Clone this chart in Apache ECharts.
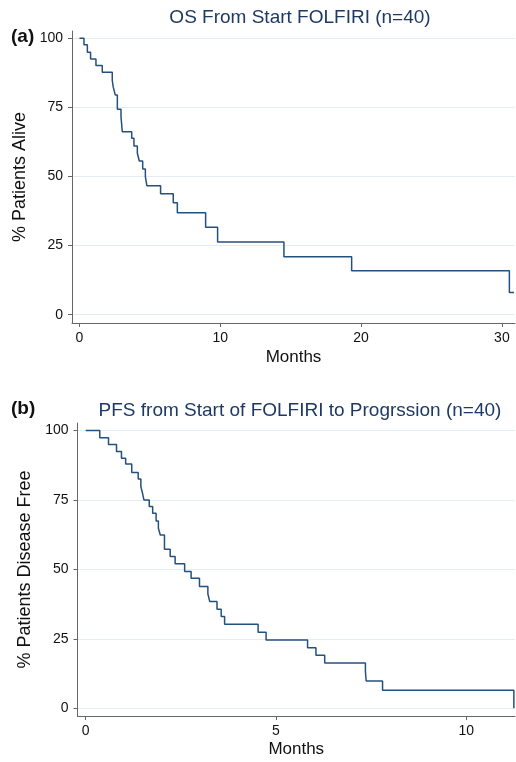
<!DOCTYPE html>
<html>
<head>
<meta charset="utf-8">
<script src="https://cdn.jsdelivr.net/npm/echarts@6/dist/echarts.min.js"></script>
<style>
html,body{margin:0;padding:0;background:#fff;}
#chart{width:516px;height:762px;}
</style>
</head>
<body>
<div id="chart"></div>
<script>
// ---- Data ----
const osMonths = [0, 0.32, 0.56, 0.79, 1.17, 1.62, 2.33, 2.40, 2.54, 2.69, 2.95, 3.04, 3.71, 3.87, 4.11, 4.25, 4.49, 4.68, 4.79, 5.76, 6.66, 6.95, 8.96, 9.81, 14.52, 19.33, 30.53, 30.86];
const osSurv   = [100, 97.6, 94.9, 92.5, 90.1, 87.7, 84.7, 82.3, 79.5, 74.3, 71.6, 66.2, 63.8, 61.0, 58.4, 55.6, 52.7, 49.9, 46.6, 43.7, 40.5, 36.9, 31.6, 26.3, 21.0, 15.9, 8.0, 8.0];

const pfsMonths = [0, 0.37, 0.60, 0.81, 0.94, 1.05, 1.21, 1.38, 1.45, 1.49, 1.53, 1.67, 1.76, 1.85, 1.91, 1.96, 2.07, 2.22, 2.35, 2.60, 2.77, 2.99, 3.21, 3.26, 3.45, 3.56, 3.65, 4.53, 4.74, 5.83, 6.05, 6.28, 7.35, 7.37, 7.80, 11.25];
const pfsSurv   = [100, 97.4, 95.0, 92.4, 90.0, 87.9, 84.9, 82.5, 79.8, 77.6, 75.0, 72.6, 70.2, 67.4, 64.8, 62.4, 57.2, 54.6, 52.0, 49.2, 46.8, 43.8, 41.2, 38.4, 35.6, 33.0, 30.2, 27.4, 24.6, 21.8, 19.1, 16.3, 13.2, 9.8, 6.5, 0];

const osXTicks  = [0, 10, 20, 30];
const pfsXTicks = [0, 5, 10];
const yTicks    = [0, 25, 50, 75, 100];

const titleA = 'OS From Start FOLFIRI (n=40)';
const titleB = 'PFS from Start of FOLFIRI to Progrssion (n=40)';
const yNameA = '% Patients Alive';
const yNameB = '% Patients Disease Free';
const xName  = 'Months';

// ---- Styling ----
const FONT = '"Liberation Sans", Arial, sans-serif';
const AXIS_COLOR = '#666666';
const GRID_COLOR = '#e2eef1';
const LINE_COLOR = '#24507e';
const TITLE_COLOR = '#1e3a64';

function zip(xs, ys){ return xs.map((x,i)=>[x, ys[i]]); }

function xAxisCfg(gridIndex, min, max, ticks, gap){
  return {
    type:'value', gridIndex, min, max,
    name:xName, nameLocation:'middle', nameGap:gap,
    nameTextStyle:{fontFamily:FONT, fontSize:17, color:'#111'},
    axisLine:{show:true, onZero:false, lineStyle:{color:AXIS_COLOR, width:1}},
    axisTick:{show:true, length:4, customValues:ticks, lineStyle:{color:AXIS_COLOR}},
    axisLabel:{customValues:ticks, margin:8, fontFamily:FONT, fontSize:14, color:'#111'},
    splitLine:{show:false}
  };
}
function yAxisCfg(gridIndex, min, max, name, gap){
  return {
    type:'value', gridIndex, min, max,
    name, nameLocation:'middle', nameGap:gap,
    nameTextStyle:{fontFamily:FONT, fontSize:18, color:'#111'},
    axisLine:{show:true, onZero:false, lineStyle:{color:AXIS_COLOR, width:1}},
    axisTick:{show:true, length:4, customValues:yTicks, lineStyle:{color:AXIS_COLOR}},
    axisLabel:{customValues:yTicks, margin:9, fontFamily:FONT, fontSize:14, color:'#111'},
    splitLine:{show:true, lineStyle:{color:GRID_COLOR, width:1}}
  };
}

const chart = echarts.init(document.getElementById('chart'), null, {renderer:'canvas'});
chart.setOption({
  backgroundColor:'#fff',
  animation:false,
  graphic:[
    {type:'text', x:300, y:18, style:{text:titleA, font:'19px '+FONT, fill:TITLE_COLOR, textAlign:'center', textVerticalAlign:'middle'}},
    {type:'text', x:11, y:37, style:{text:'(a)', font:'bold 19px '+FONT, fill:'#111', textAlign:'left', textVerticalAlign:'middle'}},
    {type:'text', x:300, y:411, style:{text:titleB, font:'19px '+FONT, fill:TITLE_COLOR, textAlign:'center', textVerticalAlign:'middle'}},
    {type:'text', x:11, y:409, style:{text:'(b)', font:'bold 19px '+FONT, fill:'#111', textAlign:'left', textVerticalAlign:'middle'}}
  ],
  grid:[
    {left:72, right:1, top:31, bottom:439, containLabel:false},
    {left:77.5, right:1, top:423, bottom:46, containLabel:false}
  ],
  xAxis:[
    xAxisCfg(0, -0.53, 30.93, osXTicks, 26),
    xAxisCfg(1, -0.215, 11.28, pfsXTicks, 25)
  ],
  yAxis:[
    yAxisCfg(0, -3, 102.6, yNameA, 42),
    yAxisCfg(1, -2.8, 102.7, yNameB, 43)
  ],
  series:[
    {type:'line', xAxisIndex:0, yAxisIndex:0, step:'end', data:zip(osMonths, osSurv),
     showSymbol:false, symbol:'none', lineStyle:{color:LINE_COLOR, width:1.5}},
    {type:'line', xAxisIndex:1, yAxisIndex:1, step:'end', data:zip(pfsMonths, pfsSurv),
     showSymbol:false, symbol:'none', lineStyle:{color:LINE_COLOR, width:1.5}}
  ]
});
</script>
</body>
</html>
